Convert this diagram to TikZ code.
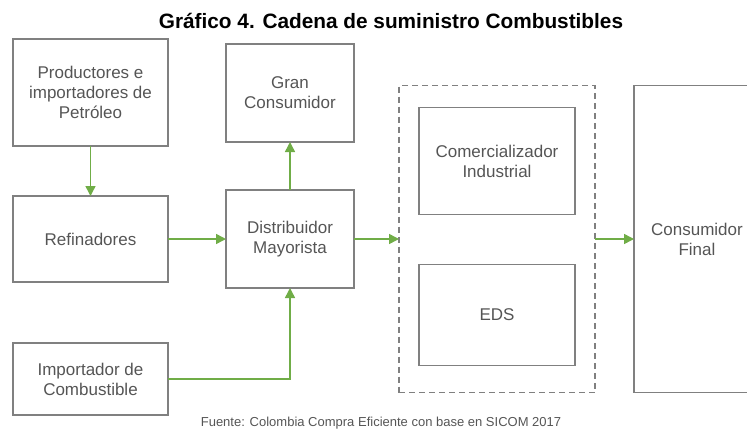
\documentclass[tikz,border=0pt]{standalone}
\usepackage{fontspec}
\setmainfont{Liberation Sans}
\usetikzlibrary{positioning,arrows.meta}
\definecolor{bordegris}{HTML}{808080}
\definecolor{textogris}{HTML}{555555}
\definecolor{verde}{HTML}{70AD47}

\begin{document}
\begin{tikzpicture}[x=1pt,y=1pt,node distance=40pt,
		caja/.style={draw=bordegris,line width=1.5pt,text=textogris,align=center,inner sep=0pt,outer sep=0pt,font=\fontsize{17}{20}\selectfont},
		grupo/.style={draw=bordegris,line width=1.5pt,dash pattern=on 6pt off 4pt,inner sep=0pt,outer sep=0pt},
		flecha/.style={draw=verde,line width=1.5pt,-{Triangle[length=10pt,width=10pt]}}]
		\clip (0,0) rectangle (747,-429);
		\node [font=\bfseries\fontsize{20.8}{24}\selectfont,anchor=base]    (titulo) at (391,-28) {Gráfico 4. Cadena de suministro Combustibles};
		\node [caja,minimum width=155pt,minimum height=107pt]               (prod)   at (90.5,-92.5) {Productores e\\importadores de\\Petróleo};
		\node [caja,minimum width=155pt,minimum height=86pt,below=50pt of prod]  (refin)  {Refinadores};
		\node [caja,minimum width=155pt,minimum height=72pt,below=61pt of refin] (impor)  {Importador de\\Combustible};
		\node [caja,minimum width=128pt,minimum height=98pt,right=58pt of refin] (dist)   {Distribuidor\\Mayorista};
		\node [caja,minimum width=128pt,minimum height=98pt,above=48pt of dist]  (gran)   {Gran\\Consumidor};
		\node [grupo,minimum width=196pt,minimum height=307pt,right=45pt of dist] (canal) {};
		\node [caja,minimum width=156pt,minimum height=107pt,below=22pt of canal.north] (comer) {Comercializador\\Industrial};
		\node [caja,minimum width=156pt,minimum height=101pt,above=27pt of canal.south] (eds)   {EDS};
		\node [caja,minimum width=126pt,minimum height=307pt,right=39pt of canal] (final)  {Consumidor\\Final};
		\node [text=textogris,font=\fontsize{13}{15}\selectfont,anchor=base] (fuente) at (381,-426) {Fuente: Colombia Compra Eficiente con base en SICOM 2017};
		
		\draw [flecha] (prod)--(refin);
		\draw [flecha] (refin)--(dist);
		\draw [flecha] (dist)--(gran);
		\draw [flecha] (impor)-|(dist);
		\draw [flecha] (dist)--(canal);
		\draw [flecha] (canal)--(final);
	\end{tikzpicture}
\end{document}
